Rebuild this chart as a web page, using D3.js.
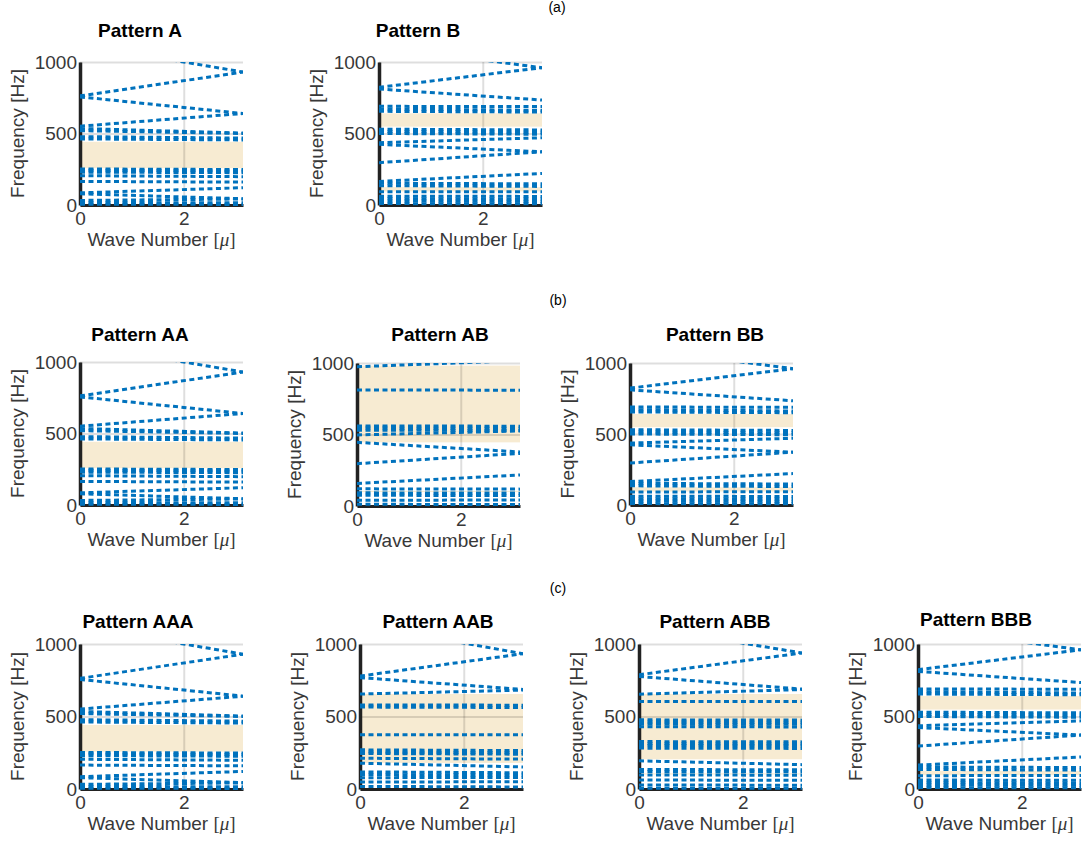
<!DOCTYPE html>
<html>
<head>
<meta charset="utf-8">
<script src="https://cdn.jsdelivr.net/npm/d3@7/dist/d3.min.js"></script>
<style>
  body { margin: 0; background: #fff; }
  text { font-family: Arial, "Liberation Sans", Helvetica, sans-serif; }
</style>
</head>
<body>
<svg id="canvas" width="1083" height="845"></svg>
<script>
// band curves: [frequency at mu = 0, frequency at mu = pi] in Hz
let bandsA = [
    [1123, 930], [763, 930], [756, 640], [551, 640],
    [535, 503], [520, 500], [478, 468], [462, 455],
    [252, 248], [243, 238], [230, 226], [205, 198], [165, 160],
    [85, 121], [78, 44], [32, 42], [18, 15], [6, 4]
]
let gapsA = [[258, 442]]

let bandsB = [
    [1109, 960], [823, 960], [811, 734],
    [690, 688], [672, 662], [655, 650],
    [530, 525], [515, 508], [500, 495],
    [436, 470], [424, 372], [296, 372],
    [165, 221], [152, 148], [135, 130],
    [92, 93], [62, 60], [45, 42], [28, 25], [10, 8]
]
let gapsB = [[548, 641], [95, 125]]

let bandsAB = [
    [974, 1017], [811, 810],
    [560, 558], [545, 543], [530, 528], [497, 525],
    [445, 378], [296, 368],
    [158, 217], [120, 118], [92, 90], [75, 73], [40, 42], [12, 10]
]
let gapsAB = [[445, 982], [98, 106]]

let bandsAAB = [
    [1135, 933], [779, 933], [768, 687], [655, 682],
    [580, 578], [565, 562], [375, 375],
    [270, 265], [255, 250], [245, 240], [212, 206],
    [178, 152], [118, 112], [100, 96], [78, 80], [48, 50], [18, 14]
]
let gapsAAB = [[180, 655]]

let bandsABB = [
    [1125, 938], [788, 938], [776, 689], [654, 686], [604, 604],
    [477, 475], [462, 460], [448, 446], [430, 428],
    [327, 325], [312, 310], [300, 298], [282, 280],
    [194, 168], [135, 132], [120, 118], [97, 95], [62, 60], [28, 26], [6, 5]
]
let gapsABB = [[205, 655], [100, 108]]

let titles = ['Pattern A', 'Pattern B', 'Pattern AA', 'Pattern AB', 'Pattern BB',
              'Pattern AAA', 'Pattern AAB', 'Pattern ABB', 'Pattern BBB']
let panelBands = [bandsA, bandsB, bandsA, bandsAB, bandsB, bandsA, bandsAAB, bandsABB, bandsB]
let panelGaps = [gapsA, gapsB, gapsA, gapsAB, gapsB, gapsA, gapsAAB, gapsABB, gapsB]
let rowLabels = ['(a)', '(b)', '(c)']
let xTicks = [0, 2]
let yTicks = [0, 500, 1000]

// where each axes box sits on the page
let layout = [
    {left: 80, top: 62, h: 143, tx: 140, ty: 37},
    {left: 379, top: 62, h: 143, tx: 418, ty: 37},
    {left: 80, top: 362, h: 143, tx: 140, ty: 341},
    {left: 357, top: 363, h: 143, tx: 440, ty: 341},
    {left: 630, top: 363, h: 142, tx: 715, ty: 341},
    {left: 80, top: 644, h: 145, tx: 138, ty: 628},
    {left: 360, top: 644, h: 145, tx: 438, ty: 628},
    {left: 639, top: 644, h: 145, tx: 715, ty: 628},
    {left: 918, top: 644, h: 145, tx: 976, ty: 626}
]
let rowLabelPos = [[557, 12], [558, 305], [558, 593]]

let plotW = 163
let blue = '#0072BD'

let canvas = d3.select('#canvas')
let defs = canvas.append('defs')

let drawPanel = (p, i) => {
    let x = d3.scaleLinear().domain([0, Math.PI]).range([p.left, p.left + plotW])
    let y = d3.scaleLinear().domain([0, 1000]).range([p.top + p.h, p.top])
    let g = canvas.append('g')

    defs.append('clipPath').attr('id', 'clip' + i)
        .append('rect')
        .attr('x', x(0)).attr('y', y(1000))
        .attr('width', plotW).attr('height', p.h + 3)

    // band gaps
    g.selectAll('rect.gap')
        .data(panelGaps[i])
        .enter()
        .append('rect')
        .attr('class', 'gap')
        .attr('x', x(0))
        .attr('y', (gap) => y(gap[1]))
        .attr('width', x(Math.PI) - x(0))
        .attr('height', (gap) => y(gap[0]) - y(gap[1]))
        .attr('fill', '#F7EBD2')

    // grid
    let gridY = g.append('g')
        .attr('transform', `translate(${x(0)},0)`)
        .call(d3.axisLeft(y).tickValues(yTicks).tickSize(-plotW).tickFormat(''))
    let gridX = g.append('g')
        .attr('transform', `translate(0,${y(0)})`)
        .call(d3.axisBottom(x).tickValues(xTicks).tickSize(-p.h).tickFormat(''))
    gridY.select('.domain').remove()
    gridX.select('.domain').remove()
    gridY.selectAll('line').attr('stroke', '#000').attr('stroke-opacity', 0.13).attr('stroke-width', 2)
    gridX.selectAll('line').attr('stroke', '#000').attr('stroke-opacity', 0.13).attr('stroke-width', 2)

    // axes
    let yAxis = g.append('g')
        .attr('transform', `translate(${x(0)},0)`)
        .call(d3.axisLeft(y).tickValues(yTicks).tickSize(0).tickSizeOuter(0).tickPadding(3).tickFormat(d3.format('d')))
    let xAxis = g.append('g')
        .attr('transform', `translate(0,${y(0)})`)
        .call(d3.axisBottom(x).tickValues(xTicks).tickSize(0).tickSizeOuter(0).tickPadding(7).tickFormat(d3.format('d')))
    yAxis.select('.domain').attr('stroke', '#222').attr('stroke-width', 3.5)
    xAxis.select('.domain').attr('stroke', '#222').attr('stroke-width', 3)
    g.selectAll('.tick text')
        .attr('font-family', 'Arial, "Liberation Sans", sans-serif')
        .attr('font-size', 19)
        .attr('fill', '#383838')

    // dispersion curves
    let line = d3.line()
        .x((d) => x(d[0]))
        .y((d) => y(d[1]))
    g.append('g')
        .attr('clip-path', `url(#clip${i})`)
        .selectAll('path')
        .data(panelBands[i])
        .enter()
        .append('path')
        .attr('d', (band) => line([[0, band[0]], [Math.PI, band[1]]]))
        .attr('fill', 'none')
        .attr('stroke', blue)
        .attr('stroke-width', 3)
        .attr('stroke-dasharray', '5,3.5')

    // labels
    g.append('text')
        .attr('x', p.tx).attr('y', p.ty)
        .attr('text-anchor', 'middle')
        .attr('font-size', 19).attr('font-weight', 'bold')
        .attr('fill', '#000')
        .text(titles[i])

    let xl = g.append('text')
        .attr('x', (x(0) + x(Math.PI)) / 2)
        .attr('y', y(0) + 41)
        .attr('text-anchor', 'middle')
        .attr('font-size', 19)
        .attr('fill', '#383838')
    xl.append('tspan').text('Wave Number ')
    xl.append('tspan').attr('font-family', '"Liberation Serif", serif').text('[')
    xl.append('tspan').attr('font-family', '"Liberation Serif", serif').attr('font-style', 'italic').text('\u03BC')
    xl.append('tspan').attr('font-family', '"Liberation Serif", serif').text(']')

    g.append('text')
        .attr('transform', `translate(${x(0) - 56},${(y(0) + y(1000)) / 2}) rotate(-90)`)
        .attr('text-anchor', 'middle')
        .attr('font-size', 19)
        .attr('fill', '#383838')
        .text('Frequency [Hz]')
}

layout.forEach((p, i) => drawPanel(p, i))

canvas.selectAll('text.row')
    .data(rowLabels)
    .enter()
    .append('text')
    .attr('class', 'row')
    .attr('x', (d, i) => rowLabelPos[i][0])
    .attr('y', (d, i) => rowLabelPos[i][1])
    .attr('text-anchor', 'middle')
    .attr('font-size', 14)
    .attr('fill', '#000')
    .text((d) => d)
</script>
</body>
</html>
